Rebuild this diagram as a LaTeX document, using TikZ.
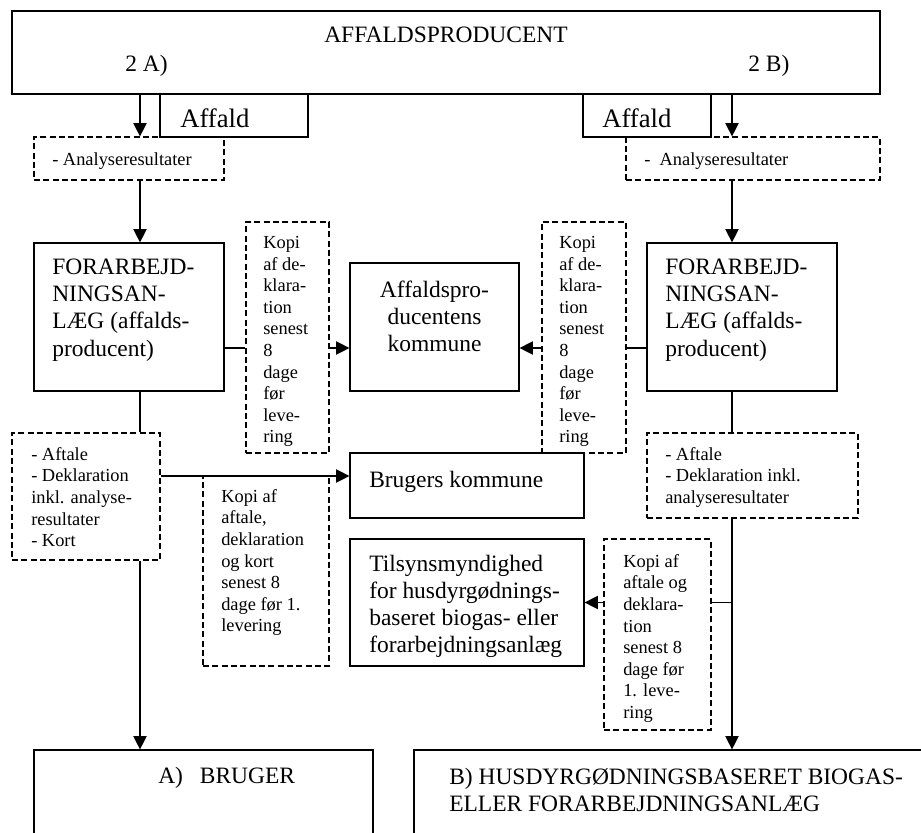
\documentclass[tikz,border=0pt]{standalone}
\usepackage{fontspec}
\setmainfont{Liberation Serif}
\usetikzlibrary{positioning, fit, arrows.meta}

\tikzset{
	box/.style={draw, line width=0.9pt, inner sep=0pt},
	dbox/.style={box, dash pattern=on 4.5pt off 2.5pt},
	big/.style={inner sep=0pt, align=left, font=\fontsize{17.6}{20.3}\selectfont},
	small/.style={inner sep=0pt, align=left, font=\fontsize{13.8}{16.2}\selectfont},
	tab/.style={inner sep=0pt, font=\fontsize{20}{24}\selectfont},
	ln/.style={line width=0.9pt},
	arr/.style={ln, -{Triangle[length=10pt,width=10pt]}}
}

\begin{document}
\begin{tikzpicture}[x=0.75pt, y=-0.75pt]
		\clip (0,0) rectangle (921,832);
		\coordinate (colA) at (140,0);
		\coordinate (colB) at (732,0);
		\coordinate (rowK) at (0,348);
		\coordinate (rowB) at (0,476);

		\node[box, fit={(12,11) (880,94)}] (prod) {};
		\node[big, anchor=north] (prod-t) at (446,27) {AFFALDSPRODUCENT};
		\node[big, anchor=north west] (prod-a) at (125,55) {2 A)};
		\node[big, anchor=north west] (prod-b) at (748,55) {2 B)};

		\node[box, fit={(160,94) (308,137)}] (affA) {};
		\node[tab, anchor=north west] (affA-t) at (180,108) {Affald};
		\node[box, fit={(583,94) (711,137)}] (affB) {};
		\node[tab, anchor=north west] (affB-t) at (602,108) {Affald};

		\node[dbox, fit={(34,137) (224,180)}] (anaA) {};
		\node[small, anchor=north west] (anaA-t) at (52,152) {- Analyseresultater};
		\node[dbox, fit={(626,137) (880,180)}] (anaB) {};
		\node[small, anchor=north west] (anaB-t) at (644,152) {-~~Analyseresultater};

		\node[box, fit={(34,243) (224,391)}] (forA) {};
		\node[big, anchor=north west] (forA-t) at (52,259) {FORARBEJD-\\NINGSAN-\\LÆG (affalds-\\producent)};
		\node[box, fit={(647,243) (837,391)}] (forB) {};
		\node[big, anchor=north west] (forB-t) at (665,259) {FORARBEJD-\\NINGSAN-\\LÆG (affalds-\\producent)};

		\node[dbox, fit={(246,222) (329,453)}] (kopiA) {};
		\node[small, anchor=north west] (kopiA-t) at (263,236) {Kopi\\af de-\\klara-\\tion\\senest\\8\\dage\\før\\leve-\\ring};
		\node[dbox, fit={(542,222) (626,453)}] (kopiB) {};
		\node[small, anchor=north west] (kopiB-t) at (559,236) {Kopi\\af de-\\klara-\\tion\\senest\\8\\dage\\før\\leve-\\ring};

		\node[box, fit={(350,263) (519,391)}] (komP) {};
		\node[big, align=center, anchor=north] (komP-t) at (434.5,281) {Affaldspro-\\ducentens\\kommune};

		\node[dbox, fit={(12,433) (160,560)}] (aftA) {};
		\node[small, anchor=north west] (aftA-t) at (31,447) {- Aftale\\- Deklaration\\inkl. analyse-\\resultater\\- Kort};
		\node[dbox, fit={(647,433) (858,518)}] (aftB) {};
		\node[small, anchor=north west] (aftB-t) at (665,447) {- Aftale\\- Deklaration inkl.\\analyseresultater};

		\node[box, fit={(350,453) (584,518)}] (komB) {};
		\node[big, anchor=north west] (komB-t) at (369,471) {Brugers kommune};

		\node[dbox, fit={(203,476) (329,666)}] (kopiC) {};
		\node[small, anchor=north west] (kopiC-t) at (221,489) {Kopi af\\aftale,\\deklaration\\og kort\\senest 8\\dage før 1.\\levering};

		\node[box, fit={(350,539) (584,666)}] (tils) {};
		\node[big, anchor=north west] (tils-t) at (369,555) {Tilsynsmyndighed\\for husdyrgødnings-\\baseret biogas- eller\\forarbejdningsanlæg};

		\node[dbox, fit={(604,539) (711,730)}] (kopiD) {};
		\node[small, anchor=north west] (kopiD-t) at (623,554) {Kopi af\\aftale og\\deklara-\\tion\\senest 8\\dage før\\1. leve-\\ring};

		\node[box, fit={(34,750) (373,900)}] (brugA) {};
		\node[big, anchor=north west] (brugA-t) at (158,767) {A)\hspace{0.72em}BRUGER};
		\node[box, fit={(414,750) (960,900)}] (brugB) {};
		\node[big, anchor=north west] (brugB-t) at (449,768) {B) HUSDYRGØDNINGSBASERET BIOGAS-\\ELLER FORARBEJDNINGSANLÆG};

		\draw[arr] (prod.south -| colA) -- (anaA.north -| colA);
		\draw[arr] (prod.south -| colB) -- (anaB.north -| colB);
		\draw[arr] (anaA.south -| colA) -- (forA.north -| colA);
		\draw[arr] (anaB.south -| colB) -- (forB.north -| colB);

		\draw[ln] (forA.east |- rowK) -- (kopiA.west |- rowK);
		\draw[arr] (kopiA.east |- rowK) -- (komP.west |- rowK);
		\draw[ln] (forB.west |- rowK) -- (kopiB.east |- rowK);
		\draw[arr] (kopiB.west |- rowK) -- (komP.east |- rowK);

		\draw[ln] (forA.south -| colA) -- (aftA.north -| colA);
		\draw[arr] (aftA.south -| colA) -- (brugA.north -| colA);
		\draw[arr] (aftA.east |- rowB) -- (komB.west |- rowB);

		\draw[ln] (forB.south -| colB) -- (aftB.north -| colB);
		\draw[arr] (aftB.south -| colB) -- (brugB.north -| colB);
		\draw[ln] (tils.east -| colB) -- (kopiD.east |- tils.east);
		\draw[arr] (kopiD.west |- tils.east) -- (tils.east);
	\end{tikzpicture}
\end{document}
